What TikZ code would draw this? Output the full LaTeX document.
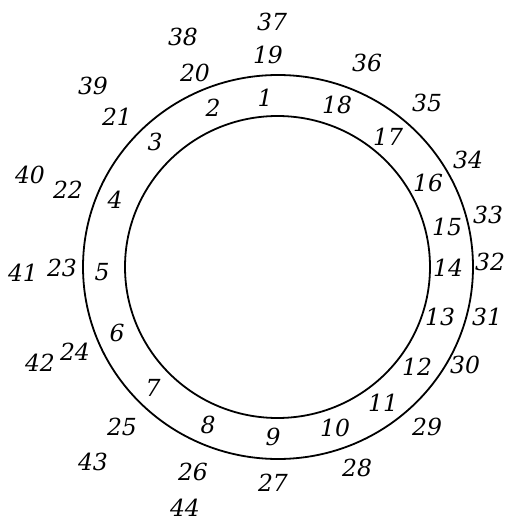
\documentclass[tikz,border=0pt]{standalone}
\usepackage{fontspec}
\setmainfont{DejaVu Serif}
\begin{document}
\begin{tikzpicture}[x=1pt,y=-1pt,
  ring/.style={line width=1.8pt},
  num/.style={font=\fontsize{23.5}{23.5}\selectfont\itshape, inner sep=0pt}]
\useasboundingbox (0,0) rectangle (507,529);
\coordinate (c) at (278,267);
\draw[ring] (c) ellipse[x radius=195pt, y radius=192pt];
\draw[ring] (277.5,267) ellipse[x radius=152.5pt, y radius=151pt];
\node[num] (n1) at (265,98) {1};
\node[num] (n2) at (213,108) {2};
\node[num] (n3) at (155,142) {3};
\node[num] (n4) at (115,200) {4};
\node[num] (n5) at (102,272) {5};
\node[num] (n6) at (117,333) {6};
\node[num] (n7) at (153,388) {7};
\node[num] (n8) at (208,425) {8};
\node[num] (n9) at (273,437) {9};
\node[num] (n10) at (335,428) {10};
\node[num] (n11) at (383,403) {11};
\node[num] (n12) at (417,367) {12};
\node[num] (n13) at (440,317) {13};
\node[num] (n14) at (448,268) {14};
\node[num] (n15) at (447,227) {15};
\node[num] (n16) at (428,183) {16};
\node[num] (n17) at (388,137) {17};
\node[num] (n18) at (337,105) {18};
\node[num] (n19) at (268,55) {19};
\node[num] (n20) at (195,73) {20};
\node[num] (n21) at (117,117) {21};
\node[num] (n22) at (68,190) {22};
\node[num] (n23) at (62,268) {23};
\node[num] (n24) at (75,352) {24};
\node[num] (n25) at (122,427) {25};
\node[num] (n26) at (193,472) {26};
\node[num] (n27) at (273,483) {27};
\node[num] (n28) at (357,468) {28};
\node[num] (n29) at (427,427) {29};
\node[num] (n30) at (465,365) {30};
\node[num] (n31) at (487,317) {31};
\node[num] (n32) at (490,262) {32};
\node[num] (n33) at (488,215) {33};
\node[num] (n34) at (468,160) {34};
\node[num] (n35) at (427,103) {35};
\node[num] (n36) at (367,63) {36};
\node[num] (n37) at (272,22) {37};
\node[num] (n38) at (183,37) {38};
\node[num] (n39) at (93,86) {39};
\node[num] (n40) at (30,175) {40};
\node[num] (n41) at (23,273) {41};
\node[num] (n42) at (40,363) {42};
\node[num] (n43) at (93,462) {43};
\node[num] (n44) at (185,508) {44};
\end{tikzpicture}
\end{document}
